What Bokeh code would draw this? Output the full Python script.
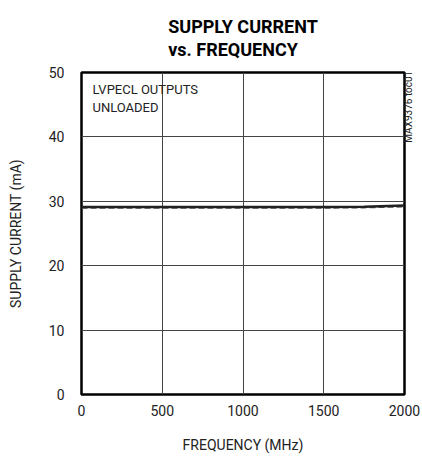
from bokeh.plotting import figure
from bokeh.models import Title, Label, Range1d, FixedTicker, LinearAxis
from bokeh.embed import file_html
from bokeh.resources import INLINE
from math import pi

freq = [0, 250, 500, 750, 1000, 1250, 1500, 1750, 2000]
current_a = [29.1, 29.1, 29.1, 29.1, 29.1, 29.1, 29.1, 29.15, 29.35]
current_b = [29.0, 29.0, 29.0, 29.0, 29.0, 29.0, 29.0, 29.05, 29.2]
x_ticks = [0, 500, 1000, 1500, 2000]
y_ticks = [0, 10, 20, 30, 40, 50]
toc_text = "MAX9376 toc01"
toc_pos = 39.1

FONT = "Roboto"

p = figure(width=422, height=455, output_backend="svg", toolbar_location=None,
           x_range=Range1d(0, 2000), y_range=Range1d(0, 50),
           min_border_left=81, min_border_right=17, min_border_top=72, min_border_bottom=59)
p.title = None

t = Title(text="SUPPLY CURRENT\nvs. FREQUENCY", align="center", text_font=FONT,
          text_font_size="18px", text_font_style="bold", text_color="black",
          text_line_height=1.12, standoff=24)
p.add_layout(t, "above")

p.outline_line_color = "black"
p.outline_line_width = 2.5

for ax in (p.xaxis[0], p.yaxis[0]):
    ax.axis_line_color = None
    ax.major_tick_in = 0
    ax.major_tick_out = 0
    ax.minor_tick_line_color = None
    ax.major_label_text_font = FONT
    ax.major_label_text_font_size = "14px"
    ax.major_label_text_color = "#222222"
    ax.axis_label_text_font = FONT
    ax.axis_label_text_font_size = "14px"
    ax.axis_label_text_font_style = "normal"
    ax.axis_label_text_color = "#222222"

p.xaxis[0].ticker = FixedTicker(ticks=x_ticks)
p.yaxis[0].ticker = FixedTicker(ticks=y_ticks)
p.xaxis.axis_label = "FREQUENCY (MHz)"
p.yaxis.axis_label = "SUPPLY CURRENT (mA)"
p.xaxis.major_label_standoff = 10
p.yaxis.major_label_standoff = 17
p.xaxis.axis_label_standoff = 18
p.yaxis.axis_label_standoff = 22

# right-side document code, drawn as a rotated tick label
rax = LinearAxis(ticker=FixedTicker(ticks=[toc_pos]),
                 major_label_overrides={toc_pos: toc_text})
rax.axis_line_color = None
rax.major_tick_line_color = None
rax.minor_tick_line_color = None
rax.major_tick_in = 0
rax.major_tick_out = 0
rax.major_label_standoff = 4
rax.major_label_orientation = pi / 2
rax.major_label_text_font = FONT
rax.major_label_text_font_size = "10px"
rax.major_label_text_color = "#222222"
p.add_layout(rax, "right")

p.xgrid.ticker = FixedTicker(ticks=x_ticks)
p.ygrid.ticker = FixedTicker(ticks=y_ticks)
p.grid.grid_line_color = "#444444"
p.grid.grid_line_width = 1
p.grid.grid_line_alpha = 1

p.line(freq, current_b, line_color="#555555", line_width=2, line_dash="6 3")
p.line(freq, current_a, line_color="#222222", line_width=2.5)

p.add_layout(Label(x=68, y=48.6, text="LVPECL OUTPUTS\nUNLOADED", text_font=FONT,
                   text_font_size="13px", text_color="#222222", text_baseline="top",
                   text_line_height=1.25))

open("out.html", "w").write(file_html(p, INLINE))
